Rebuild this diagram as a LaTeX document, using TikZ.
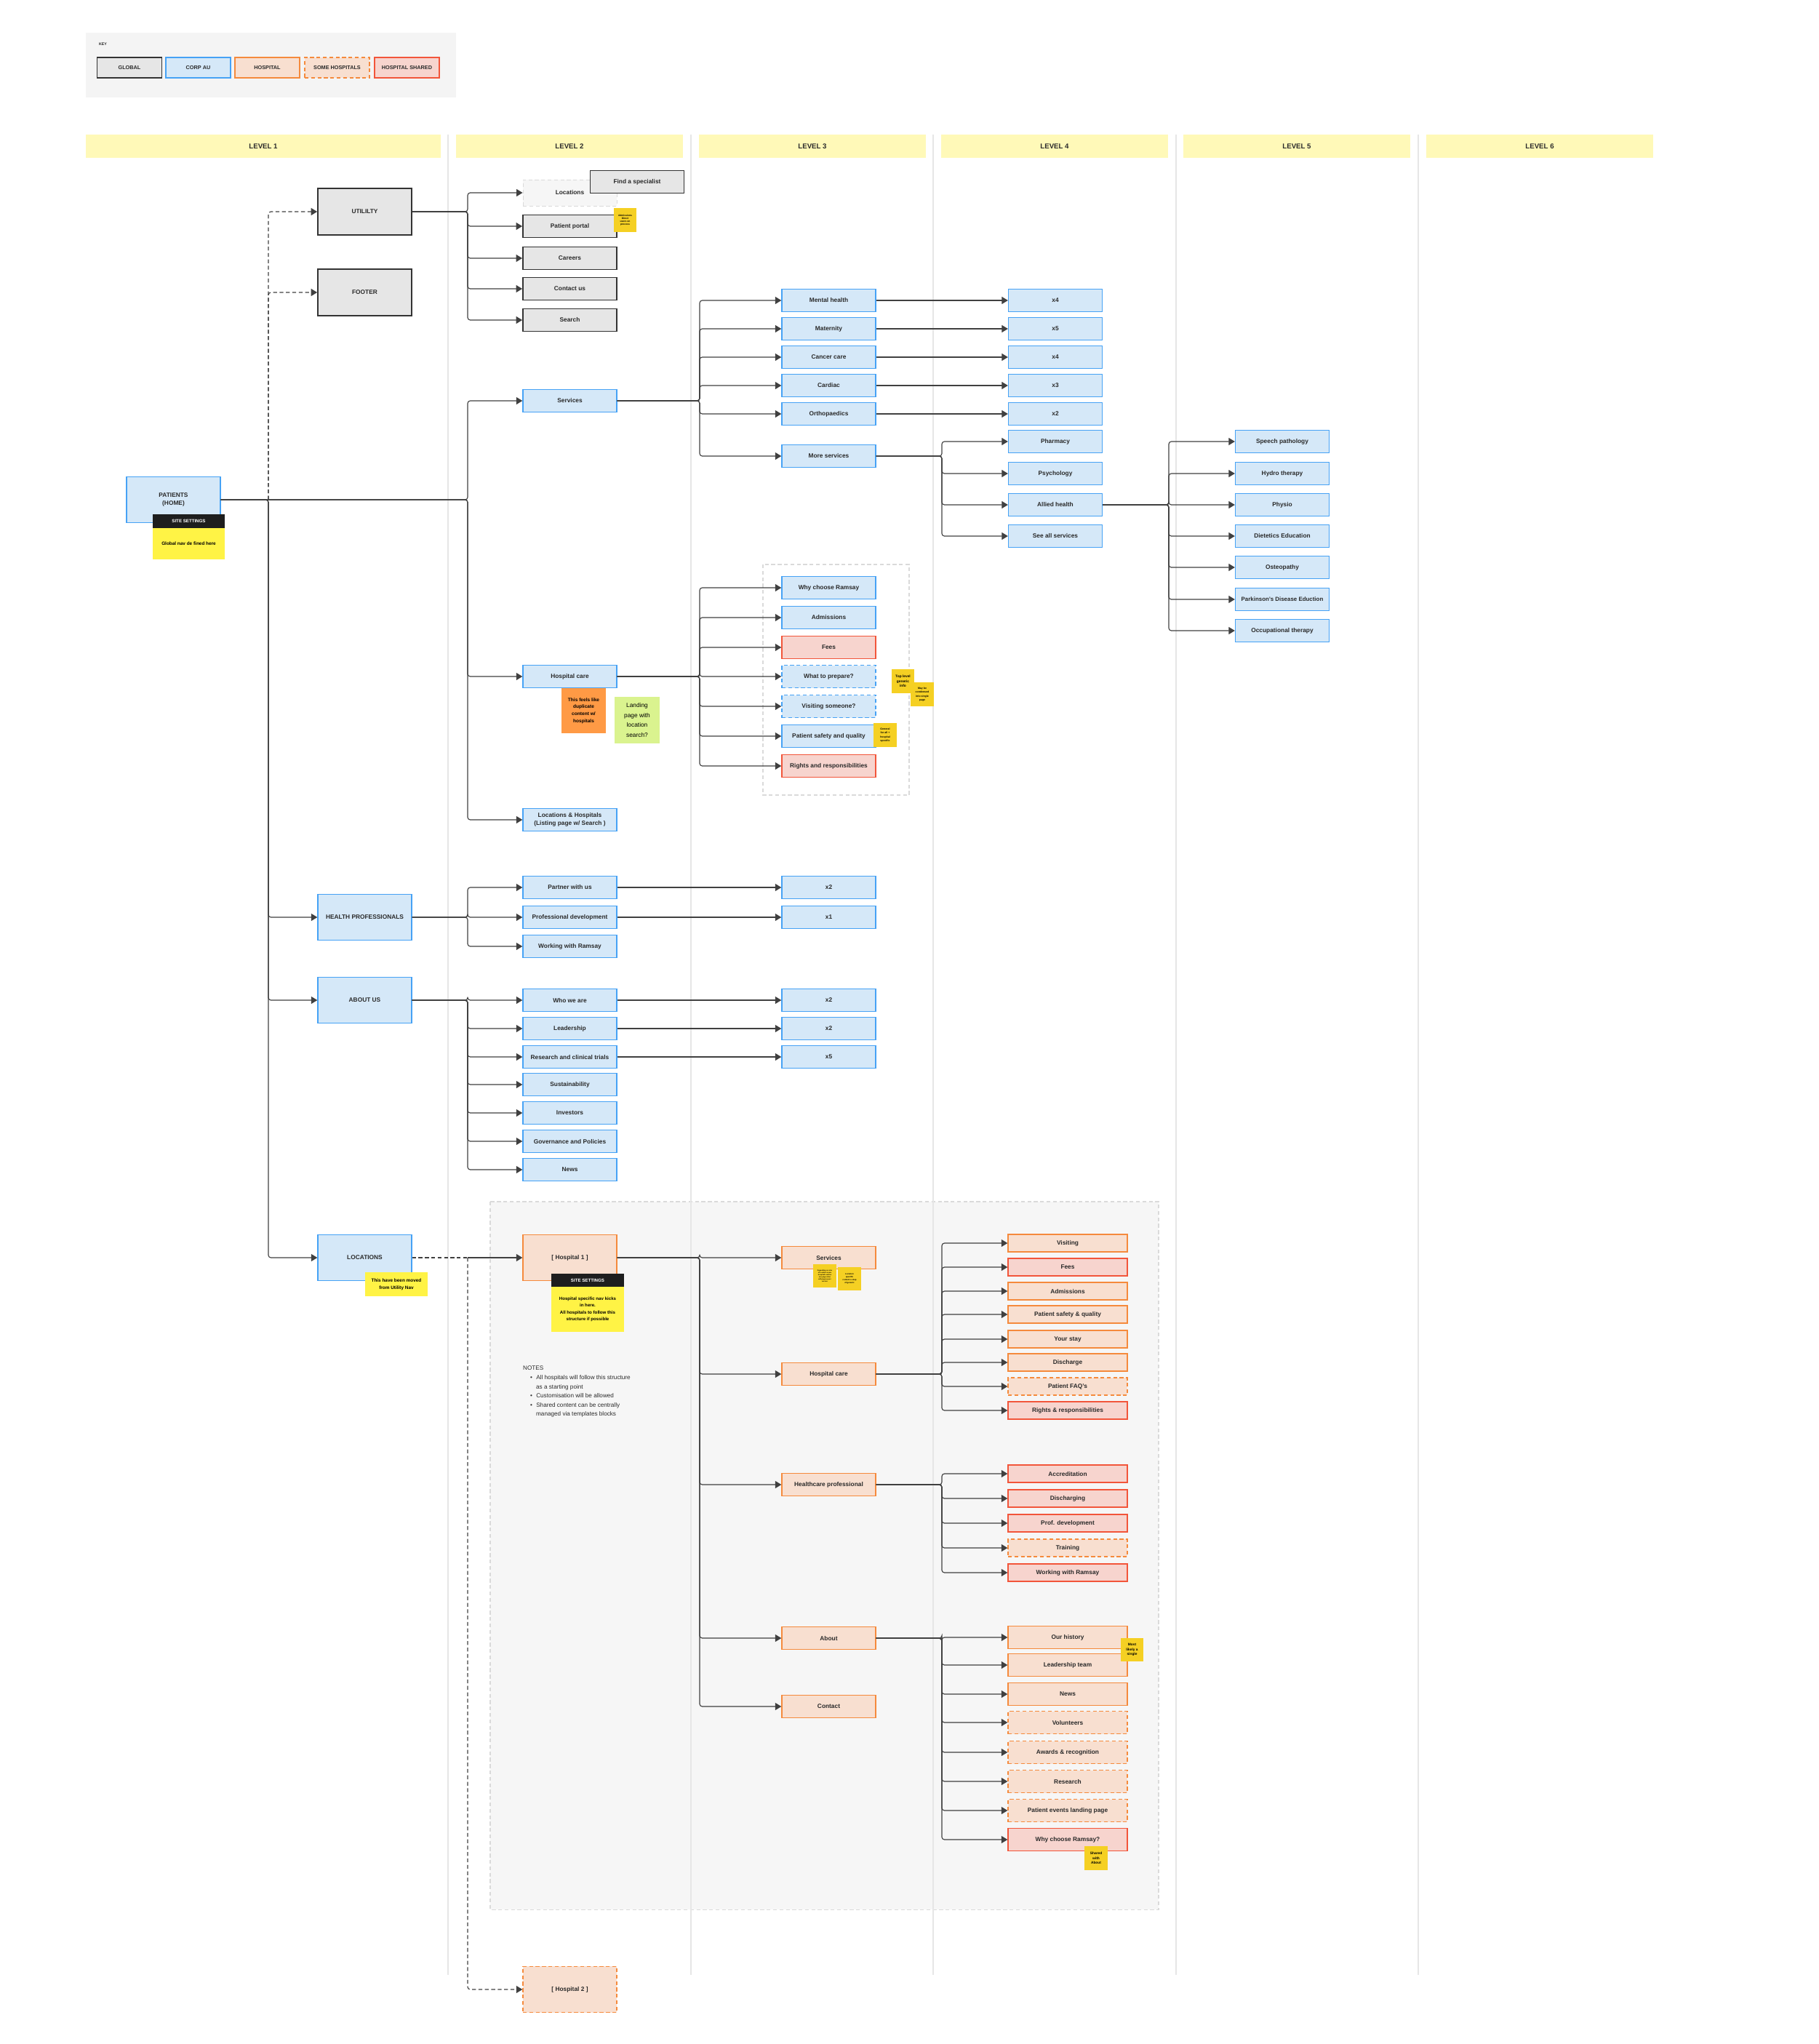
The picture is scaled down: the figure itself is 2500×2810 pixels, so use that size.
\documentclass[tikz,border=0pt]{standalone}
\usepackage{fontspec}
\setmainfont{Liberation Sans}
\usepackage{xcolor}
\usepackage{tikz}
\usetikzlibrary{arrows.meta}

\definecolor{globalfill}{HTML}{E6E6E6}
\definecolor{globalline}{HTML}{333333}
\definecolor{corpfill}{HTML}{D5E8F8}
\definecolor{corpline}{HTML}{46A2F5}
\definecolor{hospfill}{HTML}{F8DFD0}
\definecolor{hospline}{HTML}{F58A3C}
\definecolor{sharedfill}{HTML}{F7D4CE}
\definecolor{sharedline}{HTML}{F2553A}
\definecolor{levelbar}{HTML}{FFF9B8}
\definecolor{keybg}{HTML}{F4F4F4}
\definecolor{zonebg}{HTML}{F6F6F6}
\definecolor{zoneline}{HTML}{DADADA}
\definecolor{colline}{HTML}{E6E6E6}
\definecolor{wirecol}{HTML}{404040}
\definecolor{textdark}{HTML}{2A2A2A}
\definecolor{stickyyellow}{HTML}{FFF345}
\definecolor{stickygold}{HTML}{F5D023}
\definecolor{stickyorange}{HTML}{FF9A45}
\definecolor{stickygreen}{HTML}{DAF38F}
\definecolor{sitebar}{HTML}{1E1E1E}

\tikzset{
  box/.style={rectangle, minimum width=51.6mm, minimum height=12.4mm, inner sep=1pt,
    align=center, text=textdark, line width=1.5pt,
    font=\fontsize{9.5}{12.5}\selectfont\bfseries},
  big/.style={minimum height=25.4mm},
  wide/.style={minimum width=65.6mm},
  short/.style={minimum height=9.6mm},
  keybox/.style={minimum width=35.6mm, minimum height=11.2mm, font=\fontsize{8.3}{9}\selectfont\bfseries},
  dashline/.style={dash pattern=on 6pt off 4pt},
  globalbox/.style={box, fill=globalfill, draw=globalline, line width=2pt},
  corpbox/.style={box, fill=corpfill, draw=corpline},
  corpsome/.style={corpbox, dashline},
  hospbox/.style={box, fill=hospfill, draw=hospline},
  somebox/.style={hospbox, dashline},
  sharedbox/.style={box, fill=sharedfill, draw=sharedline},
  sticky/.style={rectangle, inner sep=0pt, align=center, text=black},
  sitebox/.style={sticky, fill=sitebar, text=white, font=\fontsize{7}{8}\selectfont\bfseries},
  wire/.style={draw=wirecol, line width=1.3pt, rounded corners=4pt},
  arr/.style={wire, -{Triangle[length=3.4mm, width=4mm]}},
  levelhead/.style={font=\fontsize{11}{12}\selectfont\bfseries, text=textdark},
}

\begin{document}
\begin{tikzpicture}[x=0.4mm, y=-0.4mm]
\useasboundingbox (0,0) rectangle (2500,2810);

% Key
\fill[keybg] (118,45) rectangle (627,134);
\node[anchor=west, font=\fontsize{6}{7}\selectfont\bfseries, text=textdark] (keytitle) at (133,61) {KEY};
\node[globalbox, keybox] (keyglobal) at (178,93) {GLOBAL};
\node[corpbox, keybox] (keycorp) at (272.5,93) {CORP AU};
\node[hospbox, keybox] (keyhosp) at (367.5,93) {HOSPITAL};
\node[somebox, keybox] (keysome) at (463.5,93) {SOME HOSPITALS};
\node[sharedbox, keybox] (keyshared) at (559.5,93) {HOSPITAL SHARED};

% Hospital template zone
\draw[zoneline, fill=zonebg, dashline, line width=1.2pt] (674,1652) rectangle (1593,2625);
\draw[zoneline, dashline, line width=1.2pt] (1049,776) rectangle (1250,1093);

% Level headers
\fill[levelbar] (118,185) rectangle (606,217);
\node[levelhead] (level1) at (362,201) {LEVEL 1};
\foreach \x/\t in {627/2, 961/3, 1294/4, 1627/5, 1961/6} {
  \fill[levelbar] (\x,185) rectangle ++(312,32);
  \node[levelhead] (level\t) at (\x+156,201) {LEVEL \t};
}
\foreach \x in {616,950,1283,1617,1950}
  \draw[colline, line width=1.5pt] (\x,185) -- (\x,2715);

% Spines
\coordinate (spineA) at (369,0);
\coordinate (spineB) at (643,0);
\coordinate (spineC) at (962,0);
\coordinate (spineD) at (1295,0);
\coordinate (spineE) at (1607,0);

% Level 1
\node[globalbox, big] (utility) at (501.5,291) {UTILILTY};
\node[globalbox, big] (footer) at (501.5,402) {FOOTER};
\node[corpbox, big] (patients) at (238.5,687) {PATIENTS\\(HOME)};
\node[corpbox, big] (healthpro) at (501.5,1261) {HEALTH PROFESSIONALS};
\node[corpbox, big] (aboutus) at (501.5,1375) {ABOUT US};
\node[corpbox, big] (locations) at (501.5,1729) {LOCATIONS};

% Utility nav
\node[box, minimum height=14.4mm, fill=zonebg, draw=zoneline, dashline, line width=1pt] (locs) at (783.5,265) {Locations};
\node[globalbox] (findspec) at (876,250) {Find a specialist};
\node[globalbox] (portal) at (783.5,311) {Patient portal};
\node[globalbox] (careers) at (783.5,355) {Careers};
\node[globalbox] (contactus) at (783.5,397) {Contact us};
\node[globalbox] (search) at (783.5,440) {Search};

% Patients
\node[corpbox] (services) at (783.5,551) {Services};
\node[corpbox] (hospcare) at (783.5,930) {Hospital care};
\node[corpbox] (lochosp) at (783.5,1127) {Locations \& Hospitals\\(Listing page w/ Search )};

\node[corpbox] (mental) at (1139.5,413) {Mental health};
\node[corpbox] (maternity) at (1139.5,452) {Maternity};
\node[corpbox] (cancer) at (1139.5,491) {Cancer care};
\node[corpbox] (cardiac) at (1139.5,530) {Cardiac};
\node[corpbox] (ortho) at (1139.5,569) {Orthopaedics};
\node[corpbox] (moresvc) at (1139.5,627) {More services};

\node[corpbox] (mentalcount) at (1451,413) {x4};
\node[corpbox] (maternitycount) at (1451,452) {x5};
\node[corpbox] (cancercount) at (1451,491) {x4};
\node[corpbox] (cardiaccount) at (1451,530) {x3};
\node[corpbox] (orthocount) at (1451,569) {x2};

\node[corpbox] (pharmacy) at (1451,607) {Pharmacy};
\node[corpbox] (psychology) at (1451,651) {Psychology};
\node[corpbox] (allied) at (1451,694) {Allied health};
\node[corpbox] (seeall) at (1451,737) {See all services};

\node[corpbox] (speech) at (1763,607) {Speech pathology};
\node[corpbox] (hydro) at (1763,651) {Hydro therapy};
\node[corpbox] (physio) at (1763,694) {Physio};
\node[corpbox] (dietetics) at (1763,737) {Dietetics Education};
\node[corpbox] (osteo) at (1763,780) {Osteopathy};
\node[corpbox, font=\fontsize{9}{12}\selectfont\bfseries] (parkinson) at (1763,824) {Parkinson's Disease Eduction};
\node[corpbox] (occupational) at (1763,867) {Occupational therapy};

\node[corpbox] (whyramsay) at (1139.5,808) {Why choose Ramsay};
\node[corpbox] (admissions) at (1139.5,849) {Admissions};
\node[sharedbox] (fees) at (1139.5,890) {Fees};
\node[corpsome] (prepare) at (1139.5,930) {What to prepare?};
\node[corpsome] (visiting) at (1139.5,971) {Visiting someone?};
\node[corpbox] (safety) at (1139.5,1012) {Patient safety and quality};
\node[sharedbox] (rights) at (1139.5,1053) {Rights and responsibilities};

% Health professionals
\node[corpbox] (partner) at (783.5,1220) {Partner with us};
\node[corpbox] (profdev) at (783.5,1261) {Professional development};
\node[corpbox] (working) at (783.5,1301) {Working with Ramsay};
\node[corpbox] (partnercount) at (1139.5,1220) {x2};
\node[corpbox] (profdevcount) at (1139.5,1261) {x1};

% About us
\node[corpbox] (whoweare) at (783.5,1375) {Who we are};
\node[corpbox] (leadership) at (783.5,1414) {Leadership};
\node[corpbox] (research) at (783.5,1453) {Research and clinical trials};
\node[corpbox] (sustain) at (783.5,1491) {Sustainability};
\node[corpbox] (investors) at (783.5,1530) {Investors};
\node[corpbox] (governance) at (783.5,1569) {Governance and Policies};
\node[corpbox] (news) at (783.5,1608) {News};
\node[corpbox] (whowearecount) at (1139.5,1375) {x2};
\node[corpbox] (leadershipcount) at (1139.5,1414) {x2};
\node[corpbox] (researchcount) at (1139.5,1453) {x5};

% Locations
\node[hospbox, big] (hosp1) at (783.5,1729) {[ Hospital 1 ]};
\node[somebox, big] (hosp2) at (783.5,2735) {[ Hospital 2 ]};

\node[hospbox] (hservices) at (1139.5,1729) {Services};
\node[hospbox] (hcare) at (1139.5,1889) {Hospital care};
\node[hospbox] (hpro) at (1139.5,2041) {Healthcare professional};
\node[hospbox] (habout) at (1139.5,2252) {About};
\node[hospbox] (hcontact) at (1139.5,2346) {Contact};

\node[hospbox, wide, short] (hvisiting) at (1468,1709) {Visiting};
\node[sharedbox, wide, short] (hfees) at (1468,1742) {Fees};
\node[hospbox, wide, short] (hadmissions) at (1468,1775) {Admissions};
\node[hospbox, wide, short] (hsafety) at (1468,1807) {Patient safety \& quality};
\node[hospbox, wide, short] (yourstay) at (1468,1841) {Your stay};
\node[hospbox, wide, short] (discharge) at (1468,1873) {Discharge};
\node[somebox, wide, short] (faqs) at (1468,1906) {Patient FAQ's};
\node[sharedbox, wide, short] (hrights) at (1468,1939) {Rights \& responsibilities};

\node[sharedbox, wide, short] (accreditation) at (1468,2026) {Accreditation};
\node[sharedbox, wide, short] (discharging) at (1468,2060) {Discharging};
\node[sharedbox, wide, short] (hprofdev) at (1468,2094) {Prof. development};
\node[somebox, wide, short] (training) at (1468,2128) {Training};
\node[sharedbox, wide, short] (hworking) at (1468,2162) {Working with Ramsay};

\node[hospbox, wide] (history) at (1468,2251) {Our history};
\node[hospbox, wide] (leaderteam) at (1468,2289) {Leadership team};
\node[hospbox, wide] (hnews) at (1468,2329) {News};
\node[somebox, wide] (volunteers) at (1468,2368) {Volunteers};
\node[somebox, wide] (awards) at (1468,2409) {Awards \& recognition};
\node[somebox, wide] (hresearch) at (1468,2449) {Research};
\node[somebox, wide] (events) at (1468,2489) {Patient events landing page};
\node[sharedbox, wide] (hwhy) at (1468,2529) {Why choose Ramsay?};

% Connectors
\draw[arr, dashline] (patients.east -| spineA) |- (utility.west);
\draw[arr, dashline] (patients.east -| spineA) |- (footer.west);
\foreach \n in {healthpro, aboutus, locations}
  \draw[arr] (patients.east) -- (patients.east -| spineA) |- (\n.west);
\foreach \n in {services, hospcare, lochosp}
  \draw[arr] (patients.east) -- (patients.east -| spineB) |- (\n.west);
\foreach \n in {locs, portal, careers, contactus, search}
  \draw[arr] (utility.east) -- (utility.east -| spineB) |- (\n.west);
\foreach \n in {mental, maternity, cancer, cardiac, ortho, moresvc}
  \draw[arr] (services.east) -- (services.east -| spineC) |- (\n.west);
\foreach \n in {mental, maternity, cancer, cardiac, ortho}
  \draw[arr] (\n.east) -- (\n count.west);
\foreach \n in {pharmacy, psychology, allied, seeall}
  \draw[arr] (moresvc.east) -- (moresvc.east -| spineD) |- (\n.west);
\foreach \n in {speech, hydro, physio, dietetics, osteo, parkinson, occupational}
  \draw[arr] (allied.east) -- (allied.east -| spineE) |- (\n.west);
\foreach \n in {whyramsay, admissions, fees, prepare, visiting, safety, rights}
  \draw[arr] (hospcare.east) -- (hospcare.east -| spineC) |- (\n.west);
\foreach \n in {partner, profdev, working}
  \draw[arr] (healthpro.east) -- (healthpro.east -| spineB) |- (\n.west);
\foreach \n in {partner, profdev}
  \draw[arr] (\n.east) -- (\n count.west);
\foreach \n in {whoweare, leadership, research, sustain, investors, governance, news}
  \draw[arr] (aboutus.east) -- (aboutus.east -| spineB) |- (\n.west);
\foreach \n in {whoweare, leadership, research}
  \draw[arr] (\n.east) -- (\n count.west);
\draw[wire, dashline] (locations.east) -- (locations.east -| spineB);
\draw[arr] (locations.east -| spineB) -- (hosp1.west);
\draw[arr, dashline] (locations.east -| spineB) |- (hosp2.west);
\foreach \n in {hservices, hcare, hpro, habout, hcontact}
  \draw[arr] (hosp1.east) -- (hosp1.east -| spineC) |- (\n.west);
\foreach \n in {hvisiting, hfees, hadmissions, hsafety, yourstay, discharge, faqs, hrights}
  \draw[arr] (hcare.east) -- (hcare.east -| spineD) |- (\n.west);
\foreach \n in {accreditation, discharging, hprofdev, training, hworking}
  \draw[arr] (hpro.east) -- (hpro.east -| spineD) |- (\n.west);
\foreach \n in {history, leaderteam, hnews, volunteers, awards, hresearch, events, hwhy}
  \draw[arr] (habout.east) -- (habout.east -| spineD) |- (\n.west);

% Sticky notes
\node[sticky, fill=stickygold, minimum width=12.4mm, minimum height=13.2mm, font=\fontsize{3.8}{4.5}\selectfont\bfseries] (admnote) at (859.5,302.5) {Admissions\\Direct\\users on\\process};
\node[sitebox, minimum width=39.6mm, minimum height=7.6mm] (patsite) at (259.5,716.5) {SITE SETTINGS};
\node[sticky, fill=stickyyellow, minimum width=39.6mm, minimum height=17.2mm, font=\fontsize{7.3}{8}\selectfont\bfseries] (patnote) at (259.5,747.5) {Global nav de fined here};
\node[sticky, fill=stickyorange, minimum width=24.4mm, minimum height=24.8mm, font=\fontsize{7.5}{11}\selectfont\bfseries] (dupnote) at (802.5,977) {This feels like\\duplicate\\content w/\\hospitals};
\node[sticky, fill=stickygreen, minimum width=24.8mm, minimum height=25.6mm, font=\fontsize{9.5}{15.5}\selectfont] (landnote) at (876,990) {Landing\\page with\\location\\search?};
\node[sticky, fill=stickygold, minimum width=12.4mm, minimum height=13.2mm, font=\fontsize{5.5}{7.5}\selectfont\bfseries] (toplevelnote) at (1241.5,936.5) {Top level\\generic\\info};
\node[sticky, fill=stickygold, minimum width=12.8mm, minimum height=13.2mm, font=\fontsize{4}{6}\selectfont\bfseries] (condensenote) at (1268,954.5) {May be\\condensed\\into single\\page};
\node[sticky, fill=stickygold, minimum width=12.8mm, minimum height=13.2mm, font=\fontsize{4}{6}\selectfont\bfseries] (generalnote) at (1217,1010.5) {General\\for all +\\hospital\\specific};
\node[sticky, fill=stickyyellow, minimum width=34.4mm, minimum height=13.2mm, font=\fontsize{7.3}{11}\selectfont\bfseries] (movednote) at (545,1765.5) {This have been moved\\from Utility Nav};
\node[sitebox, minimum width=40mm, minimum height=7.2mm] (hospsite) at (808,1760) {SITE SETTINGS};
\node[sticky, fill=stickyyellow, minimum width=40mm, minimum height=24.8mm, font=\fontsize{7}{10.5}\selectfont\bfseries] (hospnote) at (808,1800) {Hospital specific nav kicks\\in here.\\All hospitals to follow this\\structure if possible};
\node[sticky, fill=stickygold, minimum width=12.8mm, minimum height=12.8mm, font=\fontsize{2.6}{3.4}\selectfont\bfseries] (svcnotea) at (1134,1754) {Depending on size\\of location some\\hospital's will be\\one page other\\will page up per\\service};
\node[sticky, fill=stickygold, minimum width=12.8mm, minimum height=12.8mm, font=\fontsize{3.2}{4.4}\selectfont\bfseries] (svcnoteb) at (1168,1758) {Location\\specific\\content a step\\of generic};
\node[sticky, fill=stickygold, minimum width=12.4mm, minimum height=12.8mm, font=\fontsize{5.5}{7.5}\selectfont\bfseries] (singlenote) at (1556.5,2268) {Most\\likely a\\single};
\node[sticky, fill=stickygold, minimum width=12.8mm, minimum height=13.2mm, font=\fontsize{5.5}{7.5}\selectfont\bfseries] (sharednote) at (1507,2554.5) {Shared\\with\\About};

% Notes
\node[anchor=north west, inner sep=0pt, align=left, text=textdark, font=\fontsize{9.3}{14.3}\selectfont] (notes) at (719,1878) {NOTES\\
\hspace*{4mm}\textbullet\hspace*{2.1mm}All hospitals will follow this structure\\
\hspace*{7.2mm}as a starting point\\
\hspace*{4mm}\textbullet\hspace*{2.1mm}Customisation will be allowed\\
\hspace*{4mm}\textbullet\hspace*{2.1mm}Shared content can be centrally\\
\hspace*{7.2mm}managed via templates blocks};

\end{tikzpicture}
\end{document}
